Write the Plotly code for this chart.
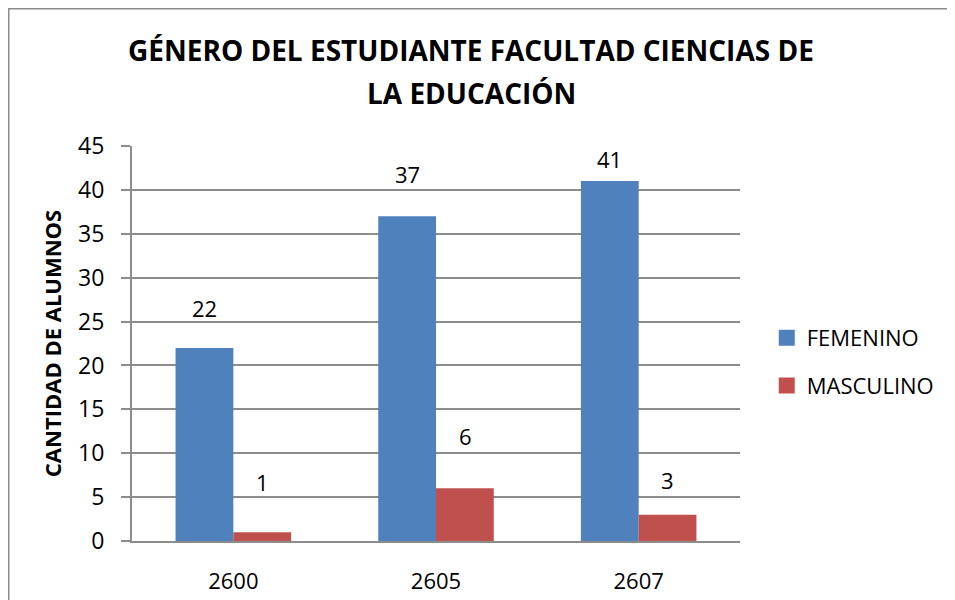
import plotly.graph_objects as go

# ── Data ──
CATEGORIES = ["2600", "2605", "2607"]
FEMENINO = [22, 37, 41]
MASCULINO = [1, 6, 3]

TITLE_LINES = ["GÉNERO DEL ESTUDIANTE FACULTAD CIENCIAS DE", "LA EDUCACIÓN"]
Y_TITLE = "CANTIDAD DE ALUMNOS"
Y_TICKS = [0, 5, 10, 15, 20, 25, 30, 35, 40, 45]

# ── Style ──
BLUE = "#4F81BD"
RED = "#C0504D"
GRID = "#8C8C8C"
FONT = "Open Sans, sans-serif"
TXT = 22
# label offsets above bar top (px), as placed in the original
SHIFT_F = [40, 42, 22]
SHIFT_M = [50, 52, 35]

fig = go.Figure()
fig.add_trace(go.Bar(x=CATEGORIES, y=FEMENINO, name="FEMENINO",
                     marker=dict(color=BLUE, line=dict(width=0)), showlegend=False))
fig.add_trace(go.Bar(x=CATEGORIES, y=MASCULINO, name="MASCULINO",
                     marker=dict(color=RED, line=dict(width=0)), showlegend=False))

# legend entries with square swatches like the original
for name, color, grp in [("FEMENINO", BLUE, "f"), ("MASCULINO", RED, "m")]:
    fig.add_trace(go.Scatter(x=[None], y=[None], mode="markers", name=name, legendgroup=grp,
                             marker=dict(symbol="square", size=16, color=color)))

annotations = []
for i, c in enumerate(CATEGORIES):
    annotations.append(dict(x=i, y=FEMENINO[i], text=str(FEMENINO[i]), showarrow=False,
                            xshift=-29, yshift=SHIFT_F[i], font=dict(size=TXT, color="black")))
    annotations.append(dict(x=i, y=MASCULINO[i], text=str(MASCULINO[i]), showarrow=False,
                            xshift=29, yshift=SHIFT_M[i], font=dict(size=TXT, color="black")))

for line, ty in zip(TITLE_LINES, [1.243, 1.134]):
    annotations.append(dict(xref="paper", yref="paper", x=0.5576, y=ty, xanchor="center",
                            yanchor="middle", showarrow=False, text=f"<b>{line}</b>",
                            font=dict(size=28, color="black", family=FONT)))

fig.update_layout(
    width=955, height=600,
    paper_bgcolor="white", plot_bgcolor="white",
    font=dict(family=FONT, size=TXT, color="black"),
    margin=dict(l=124, r=223, t=138, b=67, autoexpand=False),
    barmode="group", bargap=0.43, bargroupgap=0,
    legend=dict(x=1.044, y=0.453, xanchor="left", yanchor="middle", traceorder="grouped",
                tracegroupgap=16, font=dict(size=TXT), itemwidth=30),
    annotations=annotations,
    shapes=[dict(type="rect", xref="paper", yref="paper",
                 x0=-0.2027, x1=1.6, y0=-0.5, y1=1.3475,
                 line=dict(color="#8C8C8C", width=1.5))],
)
fig.update_xaxes(
    type="category", automargin=False, range=[-0.5, len(CATEGORIES) - 0.5],
    showline=True, linecolor=GRID, linewidth=2, ticks="", showgrid=False,
    ticklabelstandoff=20, tickfont=dict(size=TXT),
)
fig.update_yaxes(
    automargin=False,
    range=[0, 45], tickvals=Y_TICKS, showgrid=True, gridcolor=GRID, gridwidth=2,
    showline=True, linecolor=GRID, linewidth=2, ticks="outside", ticklen=9, tickcolor=GRID,
    tickwidth=2, ticklabelstandoff=12, zeroline=False, tickfont=dict(size=23),
    title=dict(text=f"<b>{Y_TITLE}</b>", font=dict(size=TXT), standoff=10),
)

fig.write_html("out.html")
